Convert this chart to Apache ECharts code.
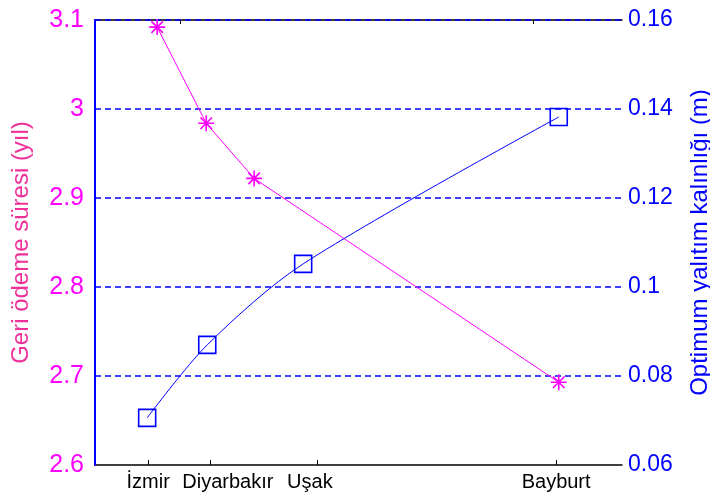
<!DOCTYPE html>
<html>
<head>
<meta charset="utf-8">
<script src="https://cdn.jsdelivr.net/npm/echarts@6/dist/echarts.min.js"></script>
<style>
  html, body { margin: 0; padding: 0; background: #fff; }
  #chart { width: 710px; height: 497px; }
</style>
</head>
<body>
<div id="chart"></div>
<script>
// city tick positions on the x axis (relative units 0-100)
const cities = ['İzmir', 'Diyarbakır', 'Uşak', 'Bayburt'];
const cityTicks = [10.1, 21.8, 42.1, 87.5];
const topTicks = [16.1, 83.1];

// payback period (years), magenta
const paybackX = [11.8, 21.1, 30.2, 88.0];
const paybackY = [3.092, 2.984, 2.922, 2.693];

// optimum insulation thickness (m), blue
const thickX = [9.9, 21.3, 39.5, 88.0];
const thickY = [0.0706, 0.087, 0.1052, 0.1382];

const MAG = '#ff00ff';
const BLUE = '#0000ff';
const FONT = 'Liberation Sans, Arial';
const starPath = 'path://M0,-1L0,1M-1,0L1,0M-0.72,-0.72L0.72,0.72M-0.72,0.72L0.72,-0.72';
const squarePath = 'path://M0,0L1,0L1,1L0,1Z';
// label styles: the original labels are not all centred on their ticks
const labelKeys = ['c', 'd', 'u', 'c'];

const chart = echarts.init(document.getElementById('chart'));
chart.setOption({
  animation: false,
  backgroundColor: '#fff',
  grid: { left: 95, right: 88, top: 20, bottom: 32, outerBoundsMode: 'none' },
  xAxis: [
    {
      type: 'value', min: 0, max: 100, position: 'bottom', z: 0,
      axisLine: { lineStyle: { color: '#000', width: 1.5 } },
      axisTick: { inside: true, length: 5, customValues: cityTicks, lineStyle: { color: '#000' } },
      axisLabel: {
        customValues: cityTicks,
        formatter: v => {
          const i = cityTicks.indexOf(v);
          return i < 0 ? '' : '{' + labelKeys[i] + '|' + cities[i] + '}';
        },
        color: '#000', fontSize: 20, fontFamily: FONT, margin: 7,
        rich: {
          c: { color: '#000', fontSize: 20, fontFamily: FONT },
          d: { color: '#000', fontSize: 20, fontFamily: FONT, padding: [0, 0, 0, 36] },
          u: { color: '#000', fontSize: 20, fontFamily: FONT, padding: [0, 14, 0, 0] }
        }
      },
      splitLine: { show: false }
    },
    {
      type: 'value', min: 0, max: 100, position: 'top', z: 0,
      axisLine: { lineStyle: { color: '#000', width: 1.5 } },
      axisTick: { inside: true, length: 4, customValues: topTicks, lineStyle: { color: '#000' } },
      axisLabel: { show: false },
      splitLine: { show: false }
    }
  ],
  yAxis: [
    {
      type: 'value', min: 2.6, max: 3.1, interval: 0.1, position: 'left', z: 1,
      name: 'Geri ödeme süresi (yıl)', nameLocation: 'middle', nameRotate: 90, nameGap: 62,
      nameTextStyle: { color: '#f0309a', fontSize: 24, fontFamily: FONT },
      axisLine: { show: true, lineStyle: { color: MAG, width: 2 } },
      axisTick: { show: false },
      axisLabel: { color: MAG, fontSize: 25, fontFamily: FONT, margin: 11 },
      splitLine: { show: true, showMinLine: false, lineStyle: { color: BLUE, type: [6, 4], width: 1.5 } }
    },
    {
      type: 'value', min: 0.06, max: 0.16, interval: 0.02, position: 'right', z: 1,
      name: 'Optimum yalıtım kalınlığı (m)', nameLocation: 'middle', nameRotate: 90, nameGap: 66,
      nameTextStyle: { color: BLUE, fontSize: 24, fontFamily: FONT },
      axisLine: { show: true, lineStyle: { color: BLUE, width: 2 } },
      axisTick: { show: false },
      axisLabel: { color: BLUE, fontSize: 23, fontFamily: FONT, margin: 6 },
      splitLine: { show: false }
    }
  ],
  series: [
    {
      name: 'Geri ödeme süresi', type: 'line', xAxisIndex: 0, yAxisIndex: 0, z: 3,
      data: paybackX.map((x, i) => [x, paybackY[i]]),
      symbol: starPath, symbolSize: 16,
      lineStyle: { color: MAG, width: 1 },
      itemStyle: { color: 'transparent', borderColor: MAG, borderWidth: 1.6 }
    },
    {
      name: 'Optimum yalıtım kalınlığı', type: 'line', xAxisIndex: 0, yAxisIndex: 1, z: 3,
      data: thickX.map((x, i) => [x, thickY[i]]),
      smooth: 0.3,
      symbol: squarePath, symbolSize: 17,
      lineStyle: { color: BLUE, width: 1 },
      itemStyle: { color: 'transparent', borderColor: BLUE, borderWidth: 1.6 }
    }
  ]
});
</script>
</body>
</html>
